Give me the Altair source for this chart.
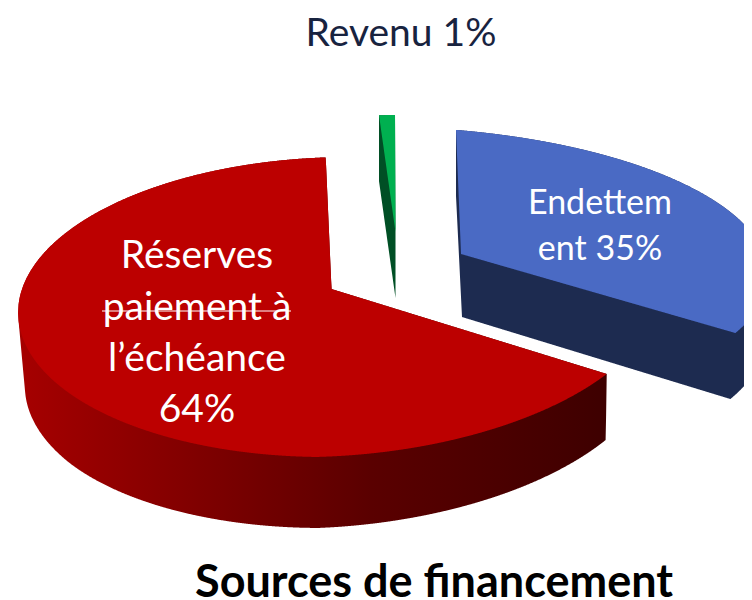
import numpy as np
import pandas as pd
import altair as alt

# --- chart values
categories = ["Endettement", "Réserves paiement à l’échéance", "Revenu"]
shares = [35, 64, 1]
title_text = "Sources de financement"
label_lines = ["Revenu 1%", "Endettem", "ent 35%", "Réserves", "paiement à", "l’échéance", "64%"]

# --- 3D look of the pie: a projection of each exploded slice, with its wall
# h = (a right, a left, b, c right, c left, d, p, q)
views = {
    "Endettement": dict(apex=(461, 254), h=(366, 366, -5.6, 5.6, 5.6, -139, 0.2, 0.12),
                        ang=[0, 126], dx=[0, -5], dy=[66, 66], apex_off=(1, 63)),
    "Réserves paiement à l’échéance": dict(apex=(331.5, 289), h=(320, 316, 13.4, -11.6, 0.4, -147.8, -0.0216, 0.12),
                        ang=[126, 180, 230, 270], dx=[-1, 2, 6, 7], dy=[66, 71, 74, 72], apex_off=None),
    "Revenu": dict(apex=(395.5, 232), h=(294, 294, 0, 0, 0, -131, 0, 0.12),
                   ang=[356, 360], dx=[0, 0], dy=[66, 66], apex_off=(0, 66)),
}
face_colors = {"Endettement": "#4A6AC4", "Réserves paiement à l’échéance": "#BC0000", "Revenu": "#00B050"}
wall_colors = {
    "Endettement": "#1D2B50",
    "Réserves paiement à l’échéance": alt.Gradient(
        gradient="linear", x1=0, x2=1, y1=0, y2=0,
        stops=[alt.GradientStop(color="#A60000", offset=0),
               alt.GradientStop(color="#5A0000", offset=0.6),
               alt.GradientStop(color="#3E0000", offset=1)]),
    "Revenu": "#004F25",
}


def rim(view, deg):
    t = np.radians(deg)
    ar, al, b, cr, cl, d, p, q = view["h"]
    s, k = np.sin(t), np.cos(t)
    a = np.where(s >= 0, ar, al)
    c = np.where(s >= 0, cr, cl)
    w = 1 + p * s + q * k
    return (view["apex"][0] + (a * s + b * k) / w,
            view["apex"][1] + (c * s + d * k) / w)


def seg(xa, ya, xb, yb):
    return np.column_stack([xa, ya, xb, yb])


def envelope(edges, step=0.5):
    e = np.vstack(edges)
    xmin, xmax = min(e[:, 0].min(), e[:, 2].min()), max(e[:, 0].max(), e[:, 2].max())
    xs = np.unique(np.concatenate([np.arange(xmin, xmax, step), [xmin, xmax]]))
    lo, hi = np.full(xs.shape, np.inf), np.full(xs.shape, -np.inf)
    for x1, y1, x2, y2 in e:
        if x1 > x2:
            x1, y1, x2, y2 = x2, y2, x1, y1
        m = (xs >= x1) & (xs <= x2)
        if not m.any():
            continue
        if x2 == x1:
            lo[m] = np.minimum(lo[m], min(y1, y2))
            hi[m] = np.maximum(hi[m], max(y1, y2))
        else:
            y = y1 + (xs[m] - x1) * (y2 - y1) / (x2 - x1)
            lo[m] = np.minimum(lo[m], y)
            hi[m] = np.maximum(hi[m], y)
    ok = np.isfinite(lo)
    return pd.DataFrame({"x": xs[ok], "top": lo[ok], "bottom": hi[ok]})


faces, walls = {}, {}
start = 0.0
for name, share in zip(categories, shares):
    v = views[name]
    end = start + share * 3.6
    deg = np.linspace(start, end, max(int(share * 3.6 * 2), 8))
    rx, ry = rim(v, deg)
    ax, ay = v["apex"]
    px, py = np.r_[ax, rx, ax], np.r_[ay, ry, ay]
    face_edges = seg(px[:-1], py[:-1], px[1:], py[1:])
    faces[name] = envelope([face_edges])

    ox = np.interp(deg, v["ang"], v["dx"])
    oy = np.interp(deg, v["ang"], v["dy"])
    if v["apex_off"] is None:
        keep = deg <= 290
        wx, wy, wox, woy = rx[keep], ry[keep], ox[keep], oy[keep]
    else:
        wx, wy = np.r_[ax, rx, ax], np.r_[ay, ry, ay]
        wox = np.r_[v["apex_off"][0], ox, v["apex_off"][0]]
        woy = np.r_[v["apex_off"][1], oy, v["apex_off"][1]]
    bx, by = wx + wox, wy + woy
    walls[name] = envelope([face_edges,
                            seg(bx[:-1], by[:-1], bx[1:], by[1:]),
                            seg(wx, wy, bx, by)])
    start = end

x_scale = alt.Scale(domain=[8, 744], range=[0, 736], nice=False, zero=False)
y_scale = alt.Scale(domain=[8, 600], range=[0, 592], nice=False, zero=False)


def area(df, color):
    return alt.Chart(df.round(2)).mark_area(color=color, clip=True, interpolate="linear", line=False).encode(
        x=alt.X("x:Q", scale=x_scale, axis=None),
        y=alt.Y("top:Q", scale=y_scale, axis=None),
        y2="bottom:Q",
    )


layers = []
for name in ["Réserves paiement à l’échéance", "Endettement", "Revenu"]:
    layers.append(area(walls[name], wall_colors[name]))
    layers.append(area(faces[name], face_colors[name]))

label_x = [401, 600, 600, 197, 197, 197, 197]
label_y = [46, 214, 260, 268, 320, 371, 422]
label_size = [39, 34, 34, 39, 39, 39, 39]
label_color = ["#18233F"] + ["#FFFFFF"] * 6
labels = pd.DataFrame({"t": label_lines, "x": label_x, "y": label_y, "c": label_color, "s": label_size})
text = alt.Chart(labels).mark_text(font="Lato", align="center", baseline="alphabetic").encode(
    x=alt.X("x:Q", scale=x_scale, axis=None),
    y=alt.Y("y:Q", scale=y_scale, axis=None),
    text="t:N",
    color=alt.Color("c:N", scale=None),
    size=alt.Size("s:Q", scale=None),
)

seam = pd.DataFrame({"x": [102], "x2": [291], "y": [311]})
seam_line = alt.Chart(seam).mark_rule(color="#FFFFFF", strokeWidth=1.2).encode(
    x=alt.X("x:Q", scale=x_scale, axis=None), x2="x2:Q",
    y=alt.Y("y:Q", scale=y_scale, axis=None),
)

title_df = pd.DataFrame({"t": [title_text], "x": [434], "y": [597]})
title = alt.Chart(title_df).mark_text(font="Lato", fontSize=45, fontWeight="bold", color="#000000",
                                      align="center", baseline="alphabetic").encode(
    x=alt.X("x:Q", scale=x_scale, axis=None),
    y=alt.Y("y:Q", scale=y_scale, axis=None),
    text="t:N",
)

chart = alt.layer(*layers, text, seam_line, title).properties(
    width=736, height=592, padding=0, autosize=alt.AutoSizeParams(type="none"),
).configure_view(stroke=None)

chart.save("out.html", embed_options={"renderer": "svg", "actions": False})
